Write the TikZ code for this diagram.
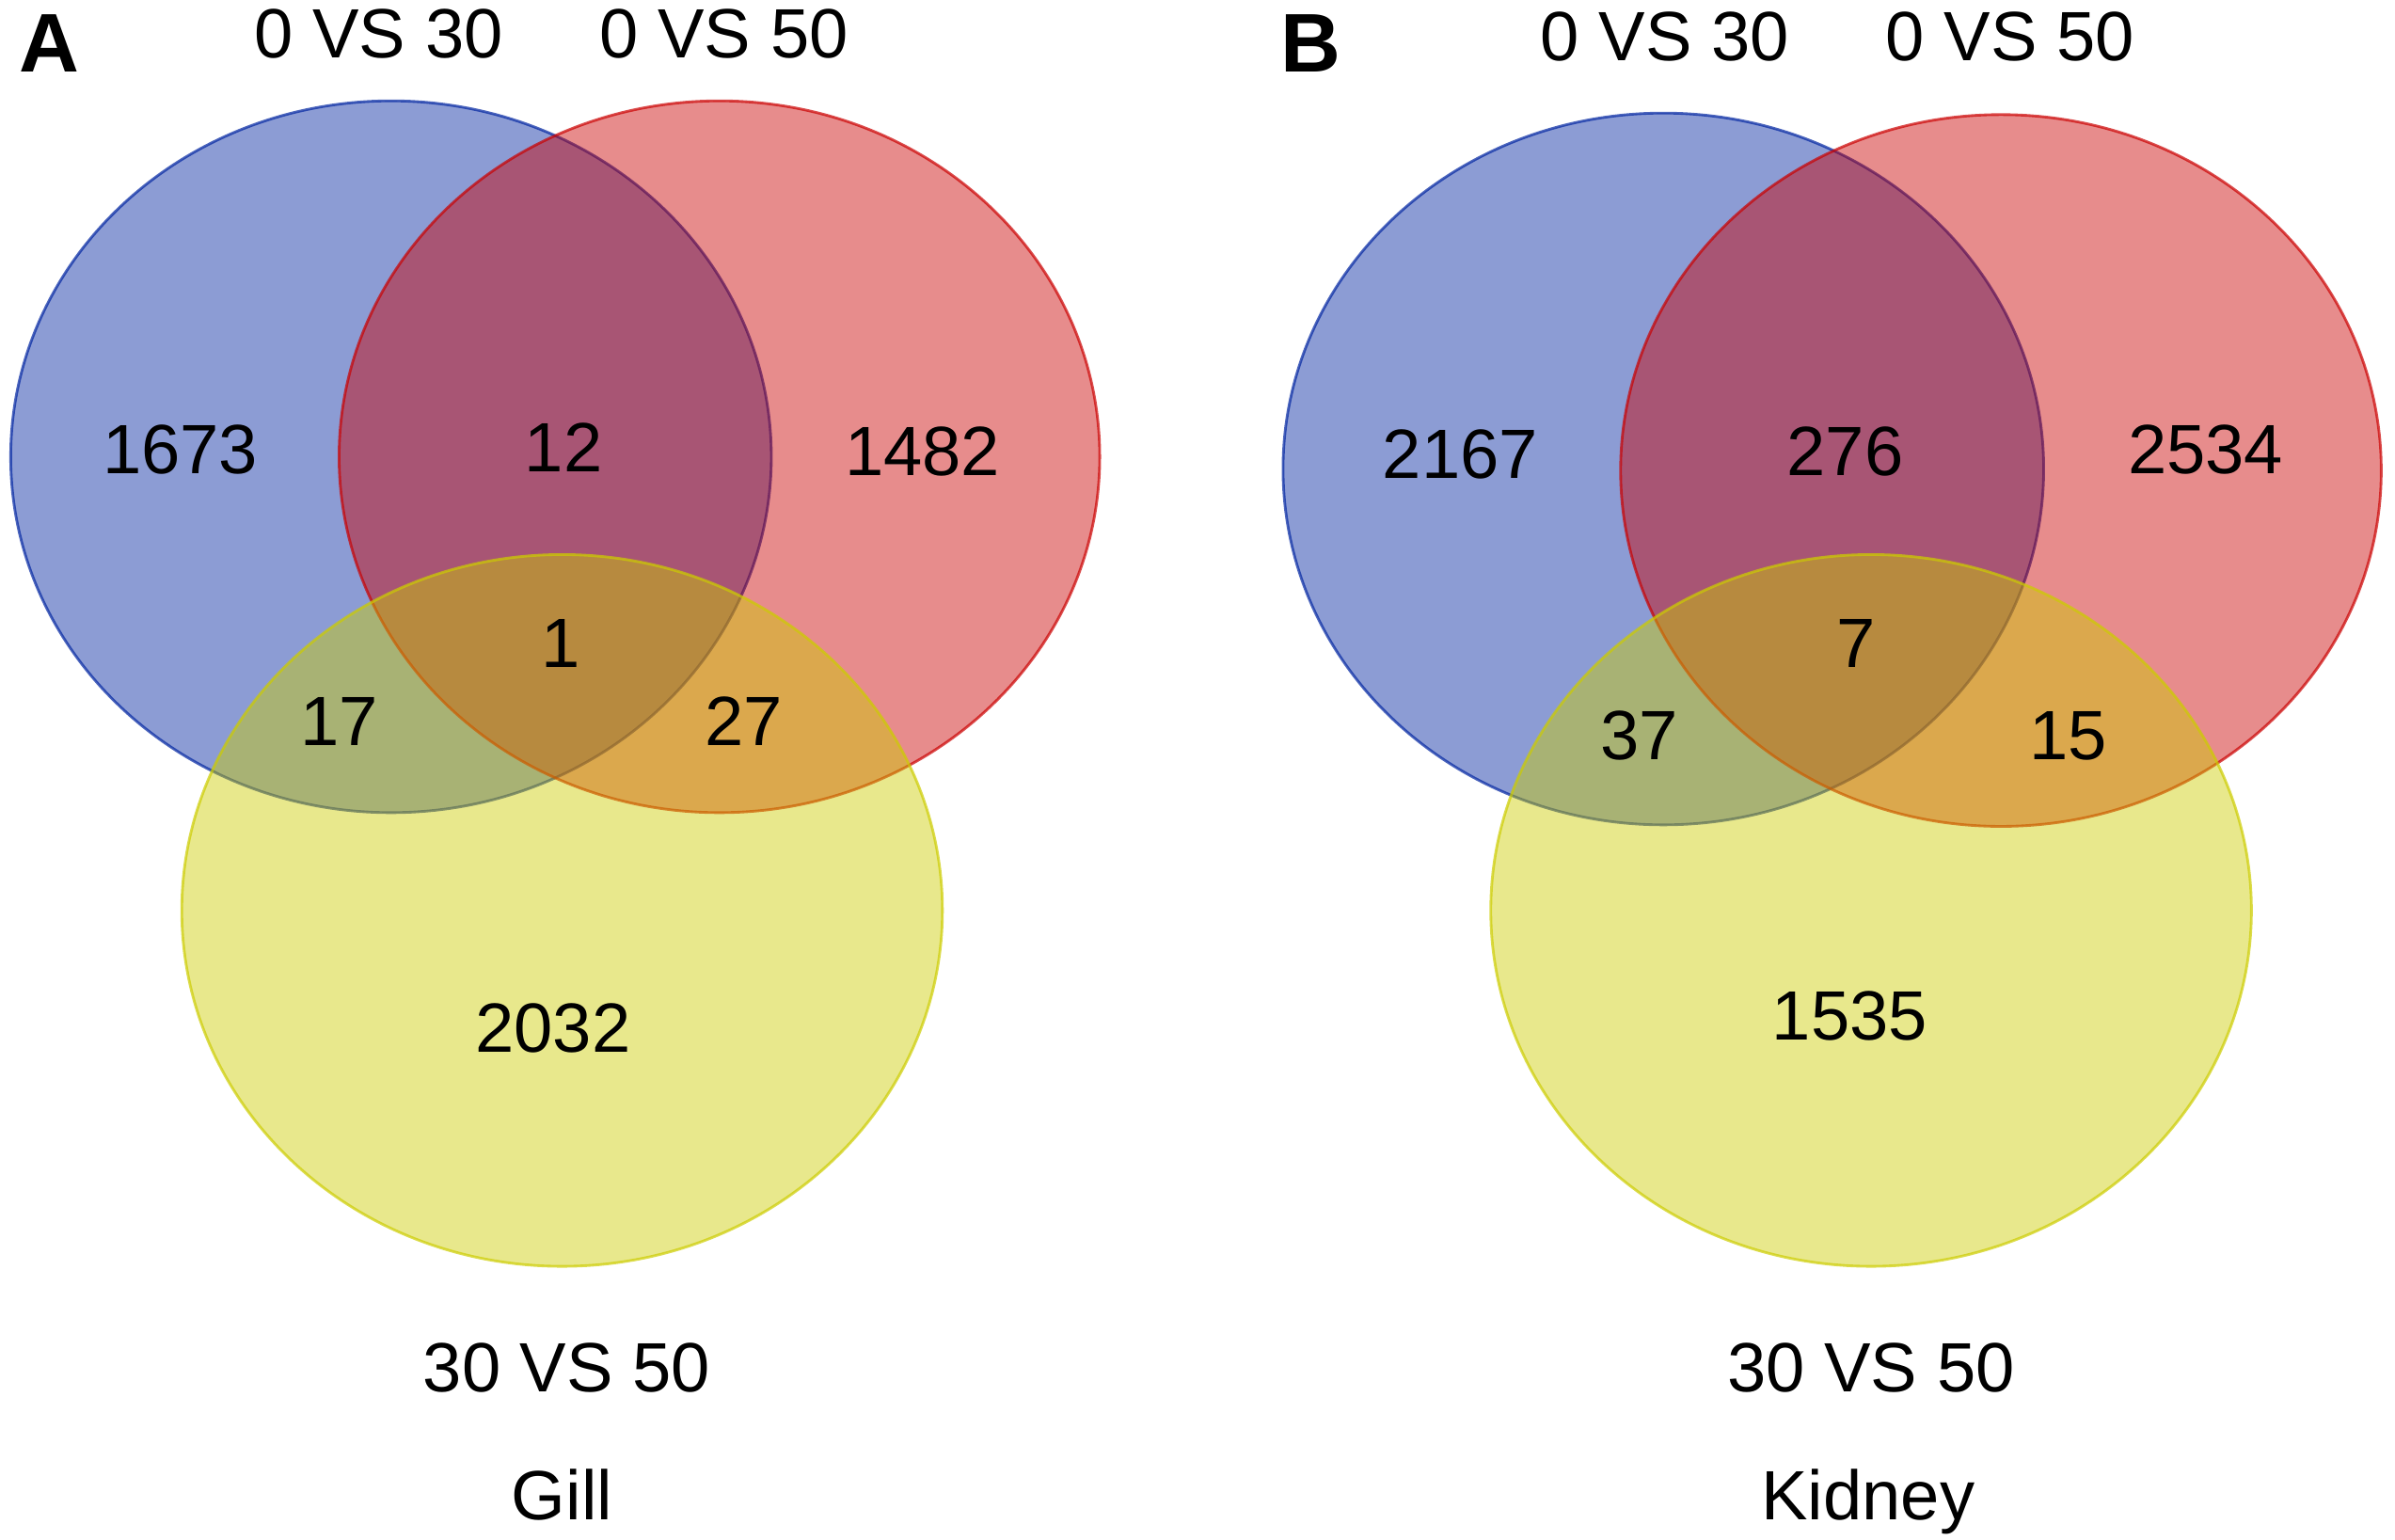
\documentclass[tikz,border=0pt]{standalone}
\usepackage{fontspec}
\setmainfont{Liberation Sans}
\definecolor{setblue}{RGB}{0,36,160}
\definecolor{setred}{RGB}{202,0,0}
\definecolor{setyellow}{RGB}{204,204,0}
\tikzset{
    venn/.style={line width=0.5pt, fill opacity=0.45, draw opacity=0.7},
    txt/.style={anchor=base, inner sep=0pt, font=\fontsize{13}{15}\selectfont},
    panel/.style={anchor=base, inner sep=0pt, font=\fontsize{15.5}{18}\selectfont\bfseries},
}

\begin{document}
\begin{tikzpicture}[x=0.1mm, y=-0.1mm]
    \useasboundingbox (0,0) rectangle (1568,1008);
    % A: gill
    \draw[venn, draw=setblue, fill=setblue] (256,299) ellipse [x radius=249, y radius=233];
    \draw[venn, draw=setred, fill=setred] (471,299) ellipse [x radius=249, y radius=233];
    \draw[venn, draw=setyellow, fill=setyellow] (368,596) ellipse [x radius=249, y radius=233];
    \node[panel] (lblA) at (32,47) {A};
    \node[txt] (gill030) at (248,38) {0 VS 30};
    \node[txt] (gill050) at (474,38) {0 VS 50};
    \node[txt] (gill3050) at (371,911) {30 VS 50};
    \node[txt] (gill) at (368,995) {Gill};
    \node[txt] (gillB) at (118,310) {1673};
    \node[txt] (gillBR) at (369,309) {12};
    \node[txt] (gillR) at (604,311) {1482};
    \node[txt] (gillBRY) at (367,437) {1};
    \node[txt] (gillBY) at (222,488) {17};
    \node[txt] (gillRY) at (487,488) {27};
    \node[txt] (gillY) at (362,689) {2032};
    % B: kidney
    \draw[venn, draw=setblue, fill=setblue] (1089,307) ellipse [x radius=249, y radius=233];
    \draw[venn, draw=setred, fill=setred] (1310,308) ellipse [x radius=249, y radius=233];
    \draw[venn, draw=setyellow, fill=setyellow] (1225,596) ellipse [x radius=249, y radius=233];
    \node[panel] (lblB) at (858,47) {B};
    \node[txt] (kid030) at (1090,40) {0 VS 30};
    \node[txt] (kid050) at (1316,40) {0 VS 50};
    \node[txt] (kid3050) at (1225,911) {30 VS 50};
    \node[txt] (kidney) at (1223,995) {Kidney};
    \node[txt] (kidB) at (956,313) {2167};
    \node[txt] (kidBR) at (1208,311) {276};
    \node[txt] (kidR) at (1444,310) {2534};
    \node[txt] (kidBRY) at (1215,437) {7};
    \node[txt] (kidBY) at (1073,497) {37};
    \node[txt] (kidRY) at (1354,497) {15};
    \node[txt] (kidY) at (1211,681) {1535};
\end{tikzpicture}
\end{document}
